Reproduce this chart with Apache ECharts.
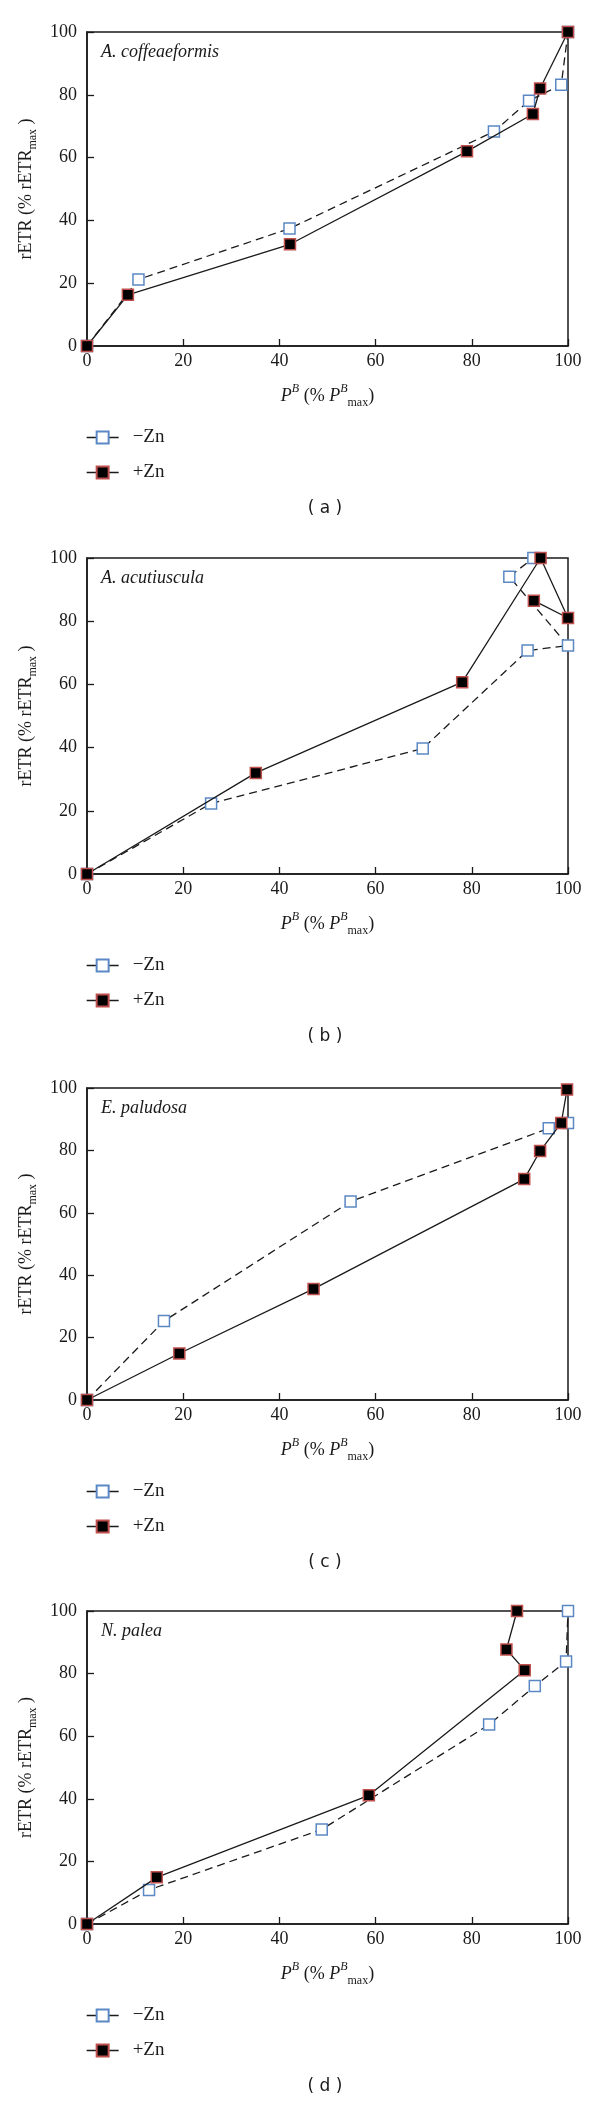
<!DOCTYPE html>
<html>
<head>
<meta charset="utf-8">
<script src="https://cdn.jsdelivr.net/npm/echarts@6/dist/echarts.min.js"></script>
<style>
html,body{margin:0;padding:0;background:#fff;}
#chart{width:600px;height:2103px;}
</style>
</head>
<body>
<div id="chart"></div>
<script>
// ---- data ----
const captions = ['( a )', '( b )', '( c )', '( d )'];
const species = ['A. coffeaeformis', 'A. acutiuscula', 'E. paludosa', 'N. palea'];
const seriesNames = ['\u2212Zn', '+Zn'];
const xTicks = [0, 20, 40, 60, 80, 100];
const yTicks = [0, 20, 40, 60, 80, 100];

const minusZnA = [[0,0],[10.7,21.2],[42.1,37.4],[84.6,68.3],[91.9,78.1],[98.6,83.2],[100,100]];
const plusZnA  = [[0,0],[8.5,16.3],[42.2,32.4],[79.0,62.0],[92.7,73.9],[94.2,82.0],[100,100]];

const minusZnB = [[0,0],[25.8,22.3],[69.8,39.7],[91.6,70.7],[100,72.3],[87.8,94.1],[92.8,100]];
const plusZnB  = [[0,0],[35.1,32.0],[78.0,60.7],[94.3,100],[100,81.0],[92.9,86.5]];

const minusZnC = [[0,0],[16.0,25.3],[54.8,63.6],[96.0,87.1],[100,88.8]];
const plusZnC  = [[0,0],[19.2,14.9],[47.1,35.6],[90.9,70.8],[94.2,79.8],[98.6,88.8],[99.8,99.5]];

const minusZnD = [[0,0],[12.9,10.9],[48.8,30.2],[83.6,63.7],[93.1,76.0],[99.6,83.9],[100,100]];
const plusZnD  = [[0,0],[14.5,14.9],[58.6,41.1],[91.0,81.1],[87.2,87.7],[89.4,100]];

const minusZn = [minusZnA, minusZnB, minusZnC, minusZnD];
const plusZn = [plusZnA, plusZnB, plusZnC, plusZnD];

// ---- layout ----
const panelTop = [32, 558, 1088, 1611];
const panelH = [314, 316, 312, 313];
const gridLeft = 87, gridW = 481;
const serif = '"Liberation Serif", "DejaVu Serif", serif';
const sans = '"DejaVu Sans", Verdana, sans-serif';
const ink = '#1a1a1a';

const nameRich = {
  m: {fontFamily: serif, fontSize: 18, color: ink, lineHeight: 26, verticalAlign: 'middle'},
  i: {fontFamily: serif, fontSize: 18, fontStyle: 'italic', color: ink, lineHeight: 26, verticalAlign: 'middle'},
  p: {fontFamily: serif, fontSize: 12, fontStyle: 'italic', color: ink, lineHeight: 13, verticalAlign: 'top'},
  s: {fontFamily: serif, fontSize: 12, color: ink, lineHeight: 13, verticalAlign: 'bottom'}
};

const grids = [], xAxes = [], yAxes = [], series = [], titles = [], legends = [];
for (let k = 0; k < 4; k++) {
  const top = panelTop[k], h = panelH[k], bottom = top + h;
  grids.push({left: gridLeft, top: top, width: gridW, height: h, show: true,
    borderColor: ink, borderWidth: 1.5, backgroundColor: 'transparent'});
  xAxes.push({type: 'value', gridIndex: k, min: xTicks[0], max: xTicks[xTicks.length-1],
    interval: xTicks[1] - xTicks[0],
    axisLine: {show: true, onZero: false, lineStyle: {color: ink, width: 1.5}},
    axisTick: {show: true, inside: true, length: 7, lineStyle: {color: ink, width: 1.3}},
    splitLine: {show: false},
    axisLabel: {fontFamily: serif, fontSize: 18, color: ink, margin: 6},
    name: '{i|P}{p|B}{m| (% }{i|P}{p|B}{s|max}{m|)}',
    nameLocation: 'middle', nameGap: 37,
    nameTextStyle: {rich: nameRich}
  });
  yAxes.push({type: 'value', gridIndex: k, min: yTicks[0], max: yTicks[yTicks.length-1],
    interval: yTicks[1] - yTicks[0],
    axisLine: {show: true, onZero: false, lineStyle: {color: ink, width: 1.5}},
    axisTick: {show: true, inside: true, length: 7, lineStyle: {color: ink, width: 1.3}},
    splitLine: {show: false},
    axisLabel: {fontFamily: serif, fontSize: 18, color: ink, margin: 10},
    name: '{m|rETR (% rETR}{s|max}{m| )}',
    nameLocation: 'middle', nameGap: 43, nameRotate: 90,
    nameTextStyle: {rich: nameRich}
  });
  series.push({name: seriesNames[0], type: 'line', xAxisIndex: k, yAxisIndex: k,
    data: minusZn[k], symbol: 'rect', symbolSize: 11, clip: false,
    lineStyle: {color: ink, width: 1.3, type: [8, 5]},
    itemStyle: {color: '#ffffff', borderColor: '#5b88c4', borderWidth: 1.5},
    emphasis: {disabled: true}, animation: false, z: 2});
  series.push({name: seriesNames[1], type: 'line', xAxisIndex: k, yAxisIndex: k,
    data: plusZn[k], symbol: 'rect', symbolSize: 11, clip: false,
    lineStyle: {color: ink, width: 1.3, type: 'solid'},
    itemStyle: {color: '#000000', borderColor: '#c0504d', borderWidth: 1.5},
    emphasis: {disabled: true}, animation: false, z: 3});
  titles.push({text: species[k], left: 101, top: top + 11, padding: 0,
    textStyle: {fontFamily: serif, fontSize: 18, fontStyle: 'italic', fontWeight: 'normal', color: ink}});
  titles.push({text: captions[k], left: 325, textAlign: 'center', top: bottom + 154, padding: 0,
    textStyle: {fontFamily: sans, fontSize: 17, fontWeight: 'normal', color: ink}});
  legends.push({data: seriesNames, orient: 'vertical', left: 86, top: bottom + 82, padding: 0,
    itemWidth: 32, itemHeight: 15, itemGap: 16, selectedMode: false,
    lineStyle: {type: 'solid', color: ink, width: 1.3},
    textStyle: {fontFamily: serif, fontSize: 19, color: ink, padding: [0, 0, 0, 9]}});
}

const chart = echarts.init(document.getElementById('chart'), null, {renderer: 'canvas'});
chart.setOption({
  animation: false,
  backgroundColor: '#ffffff',
  title: titles,
  legend: legends,
  grid: grids,
  xAxis: xAxes,
  yAxis: yAxes,
  series: series
});
</script>
</body>
</html>
